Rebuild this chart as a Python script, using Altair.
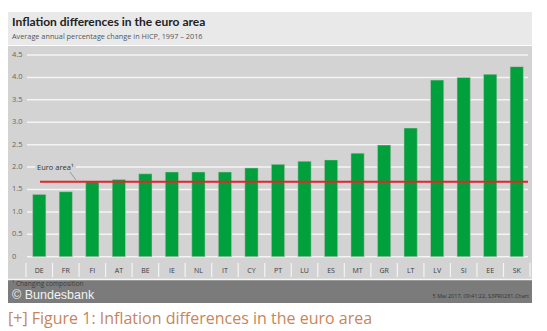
import altair as alt
import pandas as pd

# ---- data ----
CATS = ["DE", "FR", "FI", "AT", "BE", "IE", "NL", "IT", "CY", "PT",
        "LU", "ES", "MT", "GR", "LT", "LV", "SI", "EE", "SK"]
VALUES = [1.39, 1.45, 1.67, 1.72, 1.85, 1.89, 1.89, 1.89, 1.98, 2.06,
          2.13, 2.16, 2.31, 2.49, 2.87, 3.94, 4.00, 4.07, 4.24]
EURO_AREA = [1.67]
Y_TICKS = [0, 0.5, 1.0, 1.5, 2.0, 2.5, 3.0, 3.5, 4.0, 4.5]
Y_LABELS = ["0", "0.5", "1.0", "1.5", "2.0", "2.5", "3.0", "3.5", "4.0", "4.5"]

TITLE = "Inflation differences in the euro area"
SUBTITLE = "Average annual percentage change in HICP, 1997 \u2013 2016"
EURO_LABEL = "Euro area\u00b9"
FOOTNOTE = "\u00b9 Changing composition"
SOURCE = "\u00a9 Bundesbank"
STAMP = "5 Mai 2017, 09:41:22, S3PR0281.Chart"
CAPTION = "[+] Figure 1: Inflation differences in the euro area"

W, H = 547, 331
X_RANGE = [26, 530]
Y_RANGE = [256.7, 55]

bars_df = pd.DataFrame({"cat": CATS, "val": VALUES})
ticks_df = pd.DataFrame({"t": Y_TICKS, "lab": Y_LABELS})
euro_df = pd.DataFrame({"v": EURO_AREA})
one = pd.DataFrame({"k": [0]})

xband = alt.Scale(domain=CATS, range=X_RANGE, paddingInner=0.5, paddingOuter=0.25)
xedge = alt.Scale(domain=CATS, range=X_RANGE, paddingInner=0, paddingOuter=0)
yscale = alt.Scale(domain=[0, 4.5], range=Y_RANGE, nice=False, zero=True)

FONT = "Open Sans"


def rect(x, x2, y, y2, color):
    return alt.Chart(one).mark_rect(color=color).encode(
        x=alt.value(x), x2=alt.value(x2), y=alt.value(y), y2=alt.value(y2))


def label(text, x, y, size, color, align="left", weight="normal", font=FONT):
    return alt.Chart(one).mark_text(
        text=text, align=align, baseline="alphabetic", fontSize=size,
        color=color, fontWeight=weight, font=font
    ).encode(x=alt.value(x), y=alt.value(y))


header = rect(8, 532, 12, 45, "#e9e9e9")
plotbg = rect(8, 532, 46, 279, "#d3d3d3")
footer = rect(8, 532, 280, 303, "#7b7b7b")

grid = alt.Chart(ticks_df).mark_rule(color="#f4f4f4", strokeWidth=1.5).encode(
    y=alt.Y("t:Q", scale=yscale, axis=None),
    x=alt.value(27), x2=alt.value(528))

ylabels = alt.Chart(ticks_df).mark_text(
    align="left", baseline="middle", fontSize=7.5, color="#666", font=FONT
).encode(y=alt.Y("t:Q", scale=yscale, axis=None), x=alt.value(12), text="lab:N")

bars = alt.Chart(bars_df).mark_bar(color="#00a03c", stroke="#d9bfc6", strokeWidth=0.5).encode(
    x=alt.X("cat:N", scale=xband, axis=None, sort=CATS),
    y=alt.Y("val:Q", scale=yscale, axis=None))

seps = alt.Chart(bars_df).mark_rule(color="#f4f4f4", strokeWidth=1.2).encode(
    x=alt.X("cat:N", scale=xedge, axis=None, sort=CATS, bandPosition=0),
    y=alt.value(263), y2=alt.value(277))
sep_end = alt.Chart(one).mark_rule(color="#f4f4f4", strokeWidth=1.2).encode(
    x=alt.value(X_RANGE[1]), y=alt.value(263), y2=alt.value(277))
bottom_line = alt.Chart(one).mark_rule(color="#f4f4f4", strokeWidth=1.5).encode(
    x=alt.value(8), x2=alt.value(532), y=alt.value(279.5))

xlabels = alt.Chart(bars_df).mark_text(
    baseline="middle", fontSize=7, color="#3a3a3a", font=FONT
).encode(x=alt.X("cat:N", scale=xband, axis=None, sort=CATS),
         y=alt.value(271), text="cat:N")

euro_line = alt.Chart(euro_df).mark_rule(color="#e0262c", strokeWidth=2).encode(
    y=alt.Y("v:Q", scale=yscale, axis=None), x=alt.value(40), x2=alt.value(528))

euro_bg = rect(35, 76, 162, 171, "#d3d3d3")
euro_text = label(EURO_LABEL, 37, 169.5, 7.5, "#333")
leader = alt.Chart(one).mark_rule(color="#8a8a8a", strokeWidth=0.8).encode(
    x=alt.value(70), y=alt.value(172), x2=alt.value(76), y2=alt.value(180))

title = label(TITLE, 12, 26, 12, "#222", weight="bold", font="Lato")
subtitle = label(SUBTITLE, 12, 39, 7.3, "#555", font=FONT)

foot1 = label(FOOTNOTE, 12, 286, 6.5, "#3c3c3c")
src = label(SOURCE, 12, 298.5, 12.5, "#f2f2f2", font="Liberation Sans")
stamp = label(STAMP, 529, 298, 5.5, "#333", align="right")
caption = label(CAPTION, 8, 324, 16, "#c8855a")

chart = alt.layer(
    header, plotbg, footer, grid, bottom_line, bars, seps, sep_end, xlabels, ylabels,
    euro_line, euro_bg, euro_text, leader, title, subtitle, foot1, src, stamp, caption
).resolve_scale(x="independent").properties(
    width=W, height=H, padding=0, autosize="none", background="white"
).configure_view(strokeWidth=0)

chart.save("out.html", embed_options={"renderer": "svg", "actions": False})
